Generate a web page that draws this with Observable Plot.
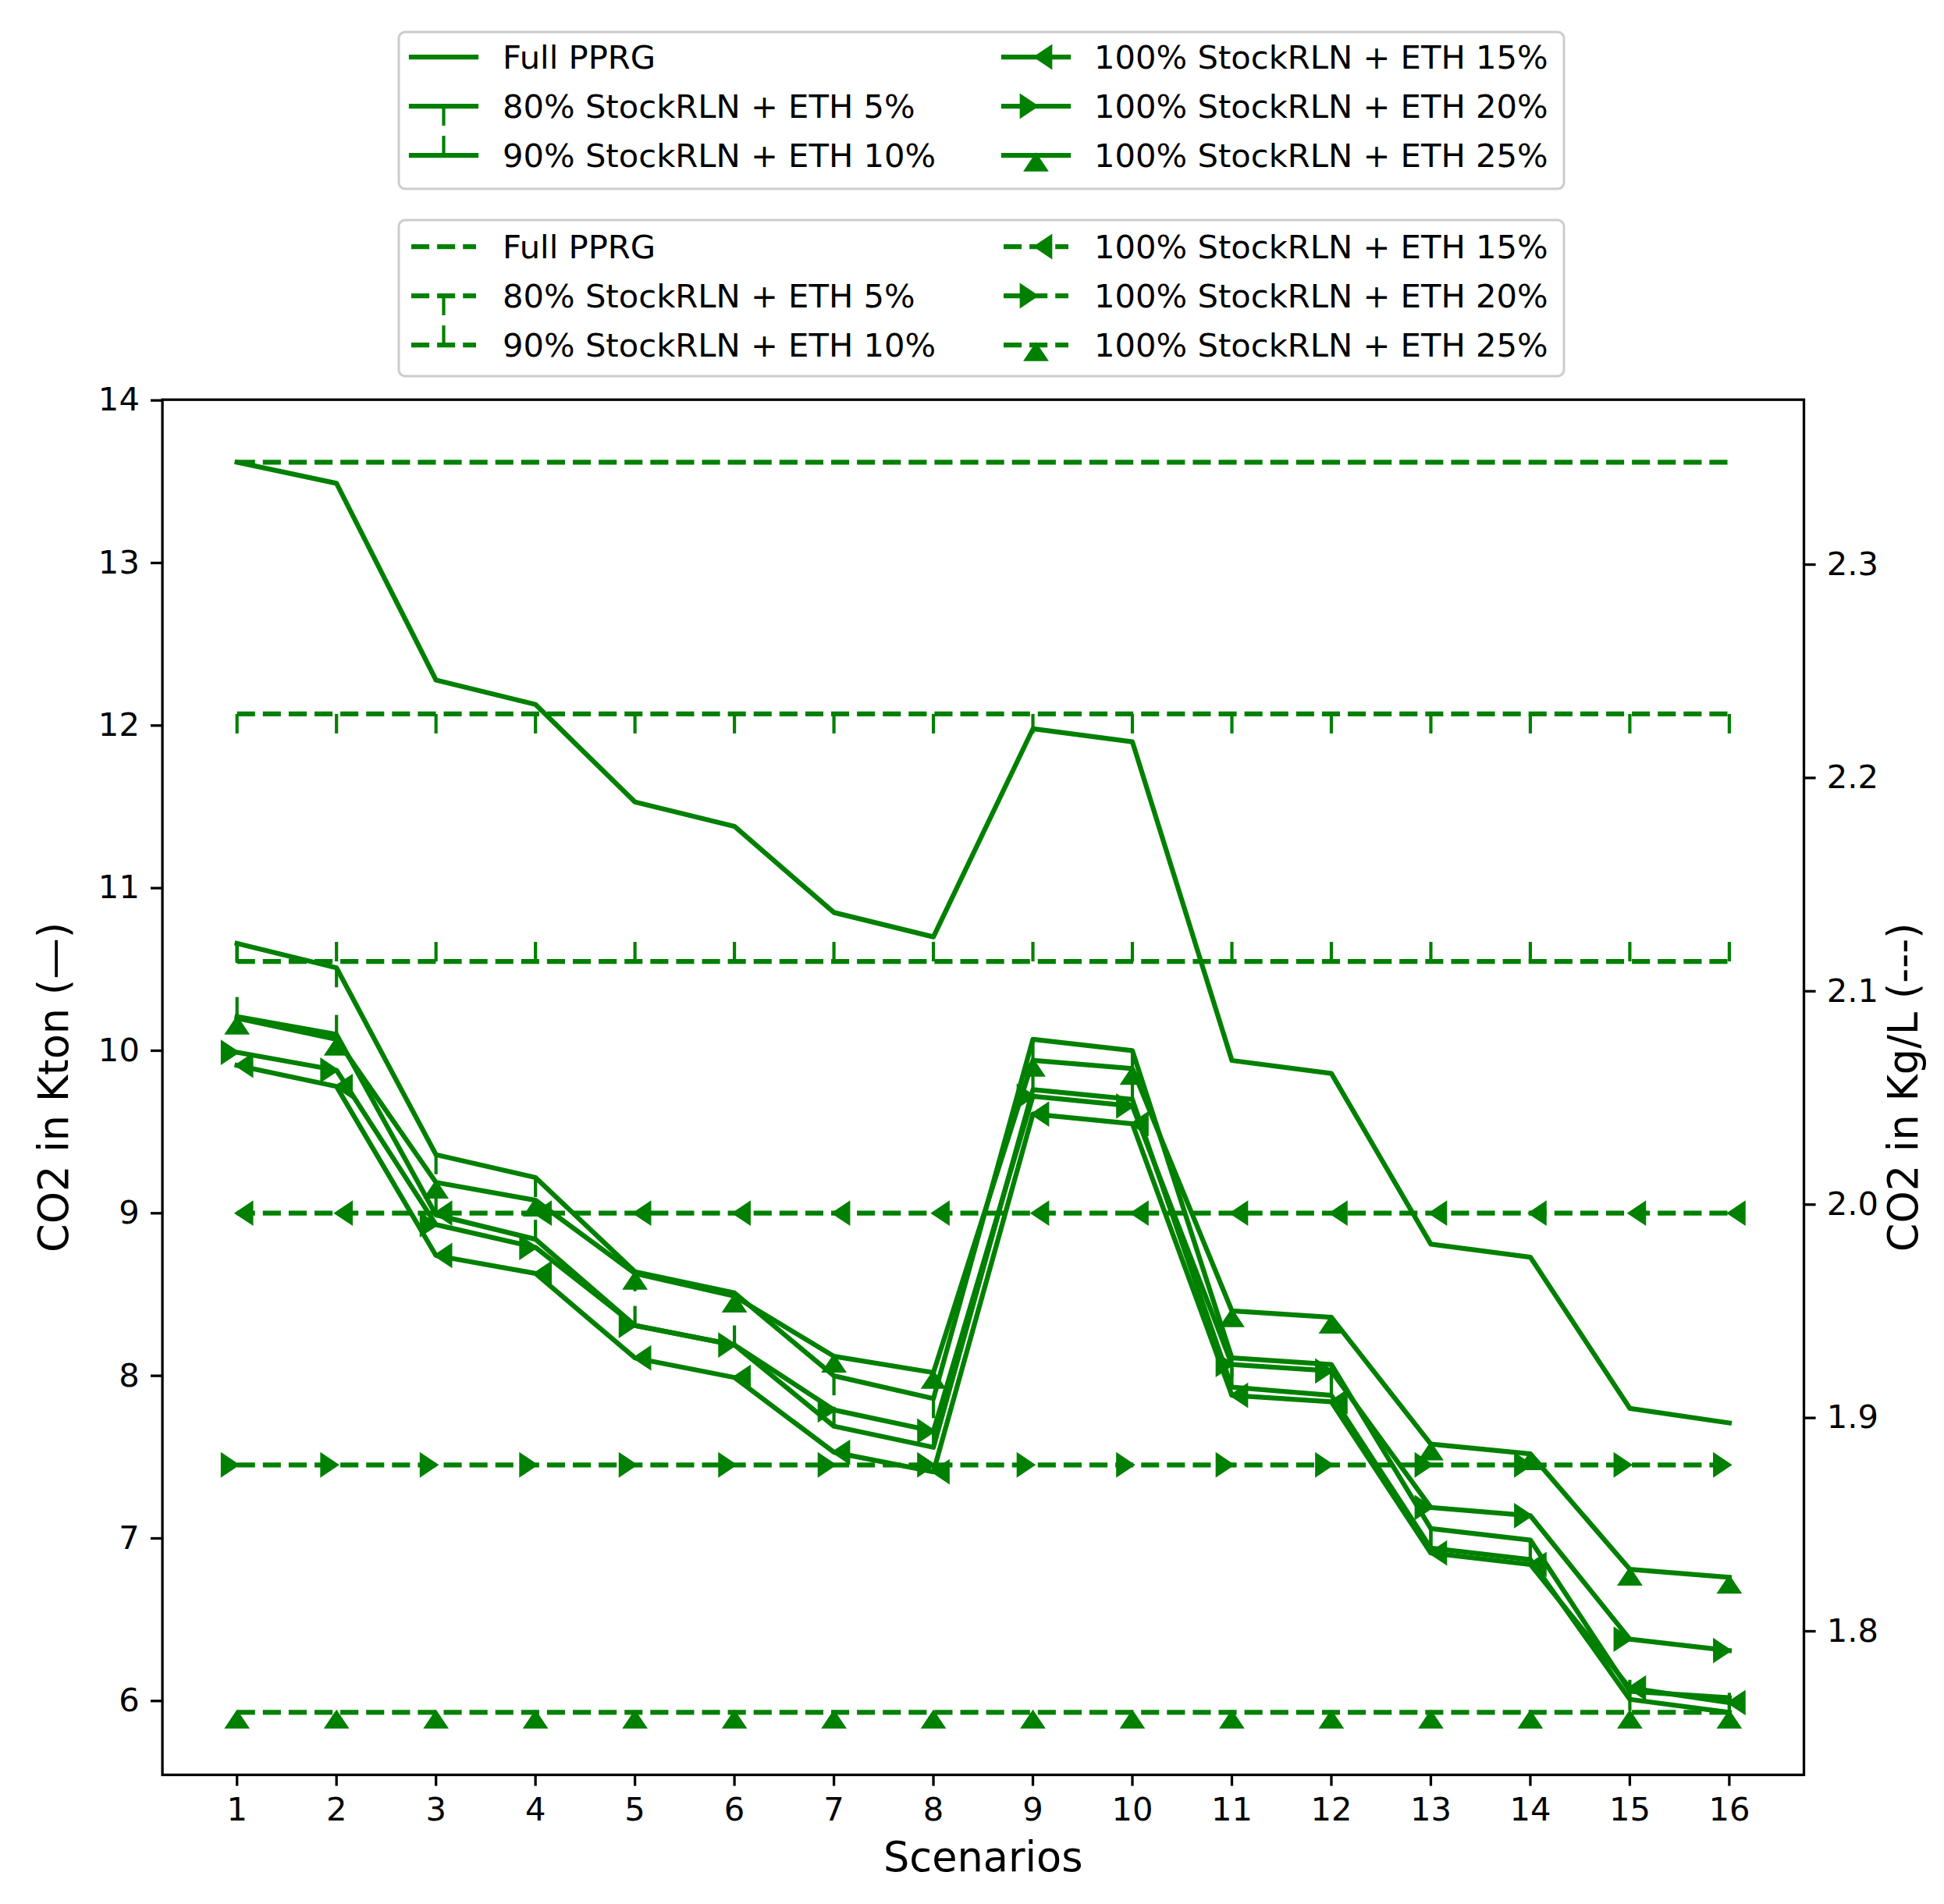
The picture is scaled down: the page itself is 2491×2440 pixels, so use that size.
<!DOCTYPE html>
<html>
<head>
<meta charset="utf-8">
<script src="https://cdn.jsdelivr.net/npm/d3@7"></script>
<script src="https://cdn.jsdelivr.net/npm/@observablehq/plot@0.6"></script>
<style>
  html, body { margin: 0; padding: 0; background: #ffffff; }
  #wrap { width: 2491px; }
  #legend svg, #chart svg { display: block; }
</style>
</head>
<body>
<div id="wrap">
  <div id="legend"></div>
  <div id="chart"></div>
</div>
<script>
// ---------------- DATA ----------------
const scenarios = [1, 2, 3, 4, 5, 6, 7, 8, 9, 10, 11, 12, 13, 14, 15, 16];

const seriesNames = [
  "Full PPRG",
  "80% StockRLN + ETH 5%",
  "90% StockRLN + ETH 10%",
  "100% StockRLN + ETH 15%",
  "100% StockRLN + ETH 20%",
  "100% StockRLN + ETH 25%"
];

// CO2 in Kton (solid lines, left axis)
const fullPPRG  = [13.62, 13.49, 12.28, 12.13, 11.53, 11.38, 10.85, 10.70, 11.98, 11.90, 9.94, 9.86, 8.81, 8.73, 7.80, 7.71];
const stock80e5 = [10.66, 10.51, 9.36, 9.22, 8.64, 8.51, 8.00, 7.86, 10.07, 10.00, 8.11, 8.07, 7.06, 6.99, 6.06, 6.02];
const stock90e10= [10.21, 10.10, 8.99, 8.84, 8.31, 8.19, 7.69, 7.56, 9.76, 9.70, 7.93, 7.88, 6.94, 6.87, 6.01, 5.93];
const stock100e15=[9.91, 9.78, 8.74, 8.63, 8.11, 7.99, 7.53, 7.41, 9.61, 9.55, 7.88, 7.84, 6.91, 6.84, 6.08, 5.99];
const stock100e20=[9.99, 9.88, 8.93, 8.79, 8.31, 8.19, 7.79, 7.66, 9.72, 9.66, 8.07, 8.03, 7.19, 7.14, 6.38, 6.31];
const stock100e25=[10.20, 10.07, 9.19, 9.08, 8.63, 8.49, 8.12, 8.02, 9.94, 9.89, 8.40, 8.36, 7.58, 7.52, 6.81, 6.76];

// CO2 in Kg/L (dashed lines, right axis), constant over scenarios
const co2KgL = [2.348, 2.230, 2.114, 1.996, 1.878, 1.762];

const leftTicks  = [6, 7, 8, 9, 10, 11, 12, 13, 14];
const rightTicks = [1.8, 1.9, 2.0, 2.1, 2.2, 2.3];

const markerKinds = ["none", "tickdown", "tickup", "caretleft", "caretright", "caretup"];

const leftLabel  = "CO2 in Kton (\u2014)";
const rightLabel = "CO2 in Kg/L (---)";
const xLabel     = "Scenarios";

// ---------------- STYLE ----------------
const GREEN = "#008000";
const LW = 6.25;      // 1.5pt
const MS = 25;        // marker size 6pt
const MEW = 4.17;     // marker edge width 1pt
const DASH = "23.1,10";
const FONT = "DejaVu Sans";
const FS = 41.7;
const LFS = 52.5;

const co2Kton = [fullPPRG, stock80e5, stock90e10, stock100e15, stock100e20, stock100e25];

// marker symbols (apex / root at the data point)
const symbols = {
  tickdown:  { draw(c) { c.moveTo(0, 0); c.lineTo(0, MS); } },
  tickup:    { draw(c) { c.moveTo(0, 0); c.lineTo(0, -MS); } },
  caretup:   { draw(c) { c.moveTo(0, 0); c.lineTo(-MS / 2, MS * 0.75); c.lineTo(MS / 2, MS * 0.75); c.closePath(); } },
  caretleft: { draw(c) { c.moveTo(0, 0); c.lineTo(MS * 0.75, -MS / 2); c.lineTo(MS * 0.75, MS / 2); c.closePath(); } },
  caretright:{ draw(c) { c.moveTo(0, 0); c.lineTo(-MS * 0.75, -MS / 2); c.lineTo(-MS * 0.75, MS / 2); c.closePath(); } }
};
function markerStyle(kind) {
  if (kind === "tickdown" || kind === "tickup")
    return { fill: "none", stroke: GREEN, strokeWidth: MEW, strokeLinecap: "butt" };
  return { fill: GREEN, stroke: GREEN, strokeWidth: MEW, strokeLinejoin: "miter" };
}

// ---------------- SCALES (matplotlib-like autoscale with 5% margins) ----------------
const allSolid = co2Kton.flat();
const lmin = d3.min(allSolid), lmax = d3.max(allSolid);
const lpad = 0.05 * (lmax - lmin);
const yDomain = [lmin - lpad, lmax + lpad];
const rmin = d3.min(co2KgL), rmax = d3.max(co2KgL);
const rpad = 0.05 * (rmax - rmin);
const rDomain = [rmin - rpad, rmax + rpad];
const toLeft = r => yDomain[0] + (r - rDomain[0]) / (rDomain[1] - rDomain[0]) * (yDomain[1] - yDomain[0]);
const fromLeft = v => rDomain[0] + (v - yDomain[0]) / (yDomain[1] - yDomain[0]) * (rDomain[1] - rDomain[0]);
const xpad = 0.05 * (d3.max(scenarios) - d3.min(scenarios));
const xDomain = [d3.min(scenarios) - xpad, d3.max(scenarios) + xpad];

// ---------------- LEGEND (HTML/SVG above the plot) ----------------
const LEG_H = 490;
(function drawLegend() {
  const svg = d3.select("#legend").append("svg")
    .attr("width", 2491).attr("height", LEG_H)
    .style("font-family", FONT);
  const boxes = [
    { y0: 41, y1: 242, rows: [73, 136, 199], dashed: false },
    { y0: 282, y1: 482, rows: [316, 379, 442], dashed: true }
  ];
  const colHandle = [527, 1286];
  const colText = [644, 1402];
  const HL = 83;
  boxes.forEach(b => {
    svg.append("rect")
      .attr("x", 511).attr("y", b.y0)
      .attr("width", 2004 - 511).attr("height", b.y1 - b.y0)
      .attr("rx", 8).attr("ry", 8)
      .attr("fill", "white").attr("fill-opacity", 0.8)
      .attr("stroke", "#cccccc").attr("stroke-width", 3);
    seriesNames.forEach((name, i) => {
      const col = i < 3 ? 0 : 1;
      const cy = b.rows[i % 3];
      const x0 = colHandle[col];
      svg.append("line")
        .attr("x1", x0).attr("x2", x0 + HL).attr("y1", cy).attr("y2", cy)
        .attr("stroke", GREEN).attr("stroke-width", LW)
        .attr("stroke-dasharray", b.dashed ? DASH : null)
        .attr("stroke-linecap", b.dashed ? "butt" : "square");
      const kind = markerKinds[i];
      if (kind !== "none") {
        const p = d3.path();
        symbols[kind].draw(p);
        const st = markerStyle(kind);
        svg.append("path")
          .attr("d", p.toString())
          .attr("transform", `translate(${x0 + HL / 2},${cy})`)
          .attr("fill", st.fill).attr("stroke", st.stroke)
          .attr("stroke-width", st.strokeWidth)
          .attr("stroke-linejoin", st.strokeLinejoin || null);
      }
      svg.append("text")
        .attr("x", colText[col]).attr("y", cy)
        .attr("dy", "0.36em")
        .attr("font-size", FS).attr("fill", "black")
        .text(name);
    });
  });
})();

// ---------------- PLOT ----------------
const marks = [];
// solid lines (left axis)
co2Kton.forEach((vals, i) => {
  const rows = scenarios.map((s, j) => ({ x: s, y: vals[j] }));
  marks.push(Plot.line(rows, { x: "x", y: "y", stroke: GREEN, strokeWidth: LW, strokeLinejoin: "round", strokeLinecap: "square" }));
  const kind = markerKinds[i];
  if (kind !== "none") {
    marks.push(Plot.dot(rows, { x: "x", y: "y", symbol: symbols[kind], r: 5, ...markerStyle(kind) }));
  }
});
// dashed lines (right axis, mapped onto the left scale)
co2KgL.forEach((v, i) => {
  const rows = scenarios.map(s => ({ x: s, y: toLeft(v) }));
  marks.push(Plot.line(rows, { x: "x", y: "y", stroke: GREEN, strokeWidth: LW, strokeDasharray: DASH, strokeLinecap: "butt" }));
  const kind = markerKinds[i];
  if (kind !== "none") {
    marks.push(Plot.dot(rows, { x: "x", y: "y", symbol: symbols[kind], r: 5, ...markerStyle(kind) }));
  }
});

const tickOpts = { tickSize: 14.6, tickPadding: 14.6, strokeWidth: 3.3, fontSize: FS, label: null };
const labelOpts = { fontSize: LFS, fill: "black", textAnchor: "middle", lineAnchor: "middle" };

const chart = Plot.plot({
  width: 2491,
  height: 2440 - LEG_H,
  marginTop: 511.7 - LEG_H,
  marginBottom: 166,
  marginLeft: 207.6,
  marginRight: 180,
  style: { fontFamily: FONT, fontSize: FS + "px", color: "black", background: "white", overflow: "visible" },
  x: { type: "linear", domain: xDomain },
  y: { type: "linear", domain: yDomain },
  marks: [
    ...marks,
    Plot.frame({ stroke: "black", strokeWidth: 3.3 }),
    Plot.axisX({ ...tickOpts, ticks: scenarios, tickFormat: d => String(d) }),
    Plot.axisY({ ...tickOpts, anchor: "left", ticks: leftTicks, tickFormat: d => String(d) }),
    Plot.axisY({ ...tickOpts, anchor: "right", ticks: rightTicks.map(toLeft), tickFormat: d => fromLeft(d).toFixed(1) }),
    Plot.text([leftLabel], { ...labelOpts, frameAnchor: "left", dx: -137.6, rotate: -90 }),
    Plot.text([rightLabel], { ...labelOpts, frameAnchor: "right", dx: 129, rotate: -90 }),
    Plot.text([xLabel], { ...labelOpts, frameAnchor: "bottom", dy: 107 })
  ]
});
document.getElementById("chart").appendChild(chart);
</script>
</body>
</html>
